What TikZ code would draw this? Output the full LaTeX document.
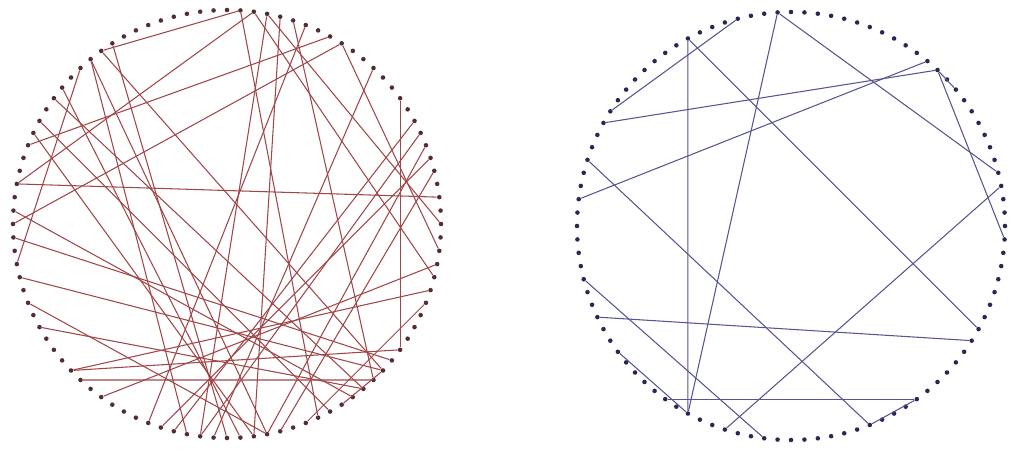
\documentclass[tikz,border=0pt]{standalone}
\definecolor{leftdot}{RGB}{80,45,55}
\definecolor{leftline}{RGB}{160,70,72}
\definecolor{rightdot}{RGB}{40,40,85}
\definecolor{rightline}{RGB}{85,85,145}
\begin{document}
\begin{tikzpicture}[x=0.02cm, y=-0.02cm,
  ldot/.style={circle, fill=leftdot, inner sep=0pt, minimum size=2.6pt},
  rdot/.style={circle, fill=rightdot, inner sep=0pt, minimum size=2.6pt},
  redline/.style={draw=leftline, line width=0.6pt},
  blueline/.style={draw=rightline, line width=0.6pt}]
\useasboundingbox (0,0) rectangle (1013,450);
% left ring
\foreach \i in {0,...,99}
  \node[ldot] (L\i) at ([shift={(\i*3.6:214)}]227,224) {};
\foreach \a/\b in {53/98, 65/76, 56/83, 50/84, 53/77, 90/10, 38/10, 37/13,
    79/23, 78/27, 78/0, 65/12, 64/28, 64/22, 63/47, 60/14, 57/23, 92/29,
    94/22, 80/13, 77/4, 49/11, 46/12, 44/22, 38/5, 66/25, 81/31, 87/26,
    95/30, 3/35, 15/51, 76/18, 84/2, 58/17, 61/24, 42/14, 27/93, 21/96,
    16/12, 19/6}
  \draw[redline] (L\a) -- (L\b);
% right ring
\foreach \i in {0,...,99}
  \node[rdot] (R\i) at ([shift={(\i*3.6:214)}]791,226) {};
\foreach \a/\b in {67/33, 67/8, 59/71, 74/33, 74/96, 58/87, 52/86, 87/1,
    87/89, 55/19, 46/27, 43/9, 35/15, 30/97, 40/33, 19/15}
  \draw[blueline] (R\a) -- (R\b);
\end{tikzpicture}
\end{document}
